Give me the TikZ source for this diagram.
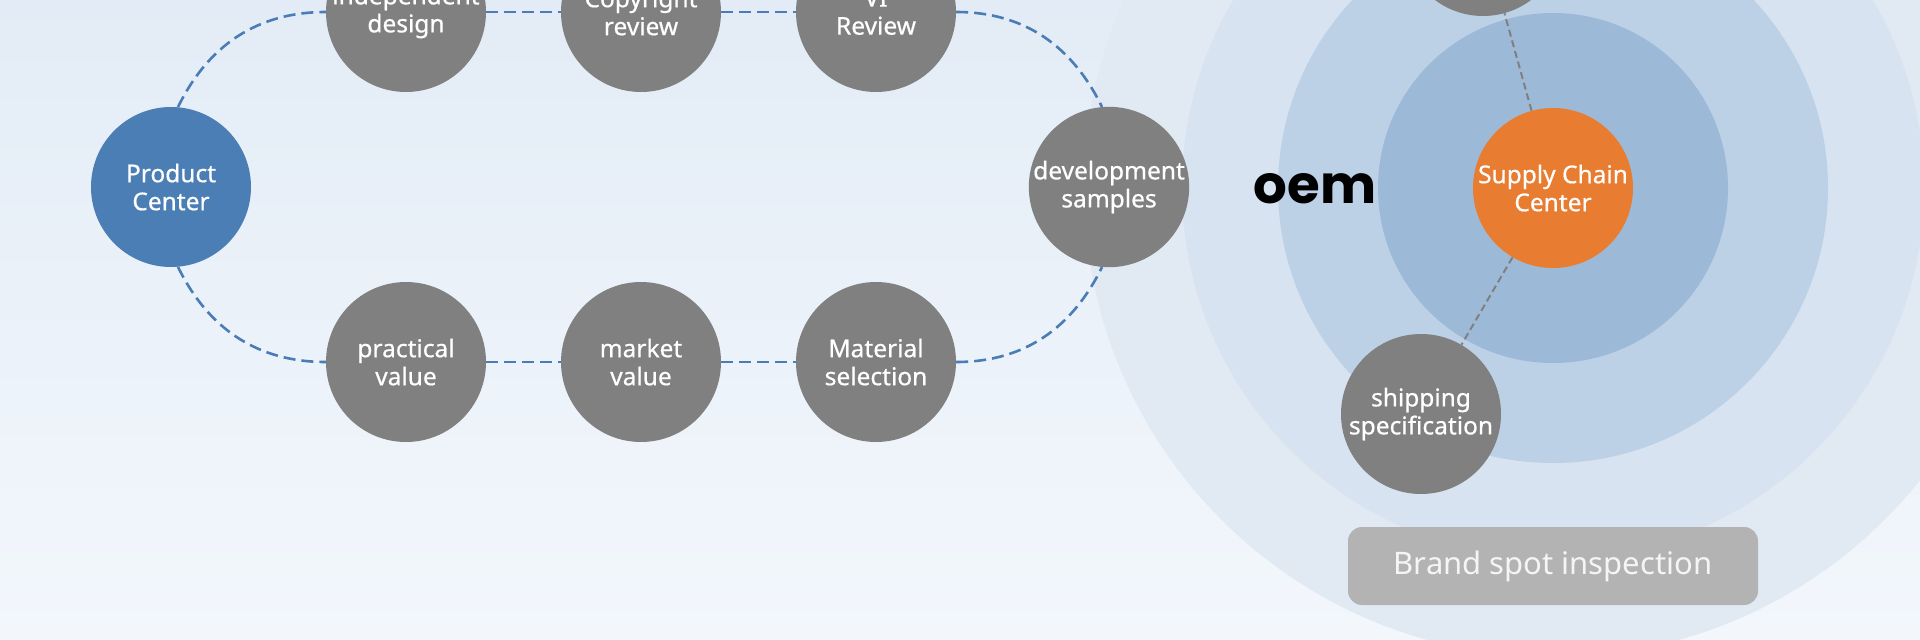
\documentclass[tikz,border=0pt]{standalone}
\usepackage{fontspec}
\setmainfont{Noto Sans}
\newfontfamily\oemfont{Poppins}
\newfontfamily\nodefont{Noto Sans}[FakeBold=0.6]
\definecolor{bgtop}{HTML}{E3ECF6}
\definecolor{bgbot}{HTML}{F3F7FC}
\definecolor{ringA}{HTML}{9DB9D8}
\definecolor{ringB}{HTML}{BCD0E6}
\definecolor{ringC}{HTML}{D7E3F0}
\definecolor{ringD}{HTML}{E1E9F3}
\definecolor{nodegray}{HTML}{808080}
\definecolor{nodeblue}{HTML}{4C7EB6}
\definecolor{nodeorange}{HTML}{E87C30}
\definecolor{dashblue}{HTML}{4A7DB5}
\definecolor{boxgray}{HTML}{B3B3B3}
\begin{document}
\begin{tikzpicture}[x=1pt,y=1pt,
  bub/.style={circle, minimum size=160pt, inner sep=0pt, fill=nodegray, text=white,
    align=center, font=\nodefont\fontsize{24.5}{28}\selectfont},
  bluelink/.style={draw=dashblue, line width=2.6pt, dash pattern=on 12pt off 6pt},
  graylink/.style={draw=nodegray, line width=2pt, dash pattern=on 7pt off 4pt},
  brandbox/.style={rectangle, rounded corners=14pt, minimum width=410pt, minimum height=78pt,
    fill=boxgray, text=white!96!black, font=\fontsize{31}{35}\selectfont}
]
\useasboundingbox (0,0) rectangle (1920,-640);
\clip (0,0) rectangle (1920,-640);
\shade[top color=bgtop, bottom color=bgbot] (0,0) rectangle (1920,-640);
\coordinate (scc) at (1553,-188);
\fill[ringD] (scc) circle[radius=469];
\fill[ringC] (scc) circle[radius=371];
\fill[ringB] (scc) circle[radius=275];
\fill[ringA] (scc) circle[radius=175];

% left loop
\node[bub, fill=nodeblue] (pc) at (171,-187) {Product\\Center};
\node[bub] (ind) at (406,-12) {independent\\design};
\node[bub] (copy) at (641,-12) {Copyright\\review};
\node[bub] (vi) at (876,-12) {VI\\Review};
\node[bub] (dev) at (1109,-187) {development\\samples};
\node[bub] (pv) at (406,-362) {practical\\value};
\node[bub] (mv) at (641,-362) {market\\value};
\node[bub] (ms) at (876,-362) {Material\\selection};

\draw[bluelink] (pc.85) to[out=64, in=180] (ind.west);
\draw[bluelink] (ind.east) -- (copy.west);
\draw[bluelink] (copy.east) -- (vi.west);
\draw[bluelink] (vi.east) to[out=0, in=116] (dev.95);
\draw[bluelink] (pc.275) to[out=-64, in=180] (pv.west);
\draw[bluelink] (pv.east) -- (mv.west);
\draw[bluelink] (mv.east) -- (ms.west);
\draw[bluelink] (ms.east) to[out=0, in=-116] (dev.265);

% right part
\node[bub, fill=nodeorange] (sc) at (scc) {Supply Chain\\Center};
\node[bub] (topn) at (1483,64) {};
\node[bub] (ship) at (1421,-414) {shipping\\specification};
\draw[graylink] (sc) -- (topn);
\draw[graylink] (sc) -- (ship);

\node[font=\oemfont\bfseries\fontsize{53}{58}\selectfont, text=black] (oem) at (1315,-189) {oem};
\node[brandbox] (brand) at (1553,-566) {Brand spot inspection};
\end{tikzpicture}
\end{document}
